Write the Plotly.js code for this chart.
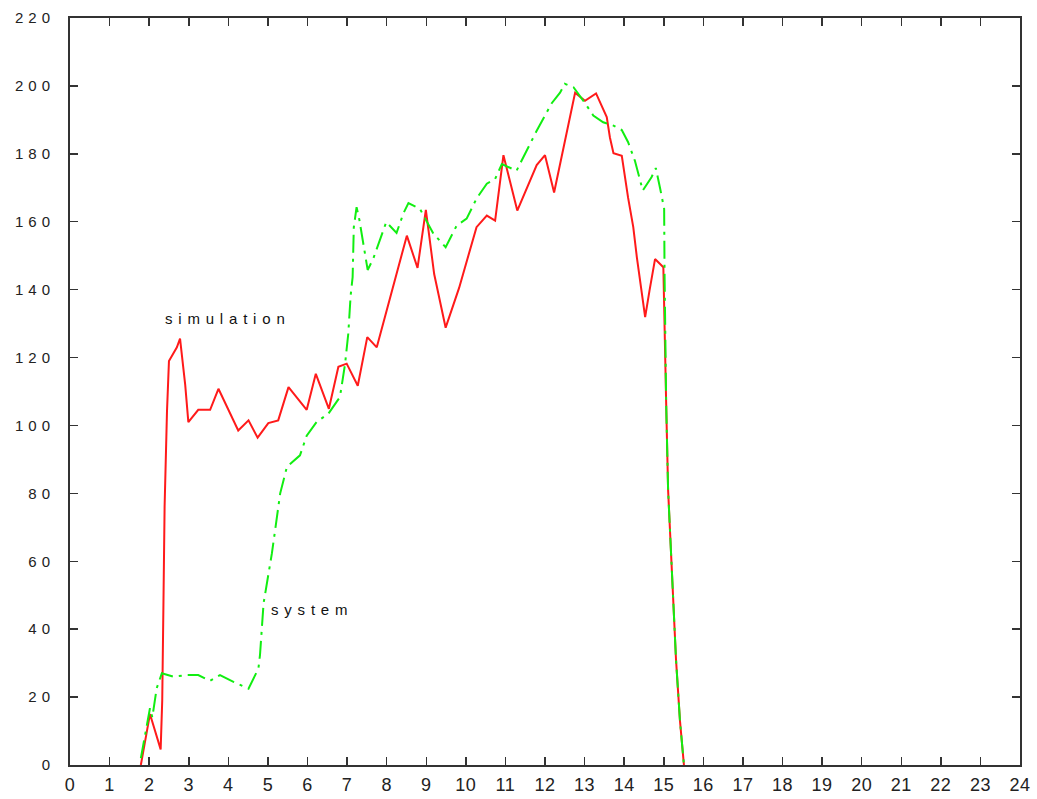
<!DOCTYPE html>
<html>
<head>
<meta charset="utf-8">
<script src="https://cdn.plot.ly/plotly-3.0.1.min.js"></script>
<style>
  html, body { margin: 0; padding: 0; background: #fff; }
  #chart { width: 1037px; height: 799px; }
  .ytick text { letter-spacing: 5px; }
  .xtick text { letter-spacing: 0.5px; }
  .annotation-text { letter-spacing: 5.8px; }
</style>
</head>
<body>
<div id="chart"></div>
<script>
// simulation series (red)
var simX = [1.79, 2.02, 2.29, 2.33, 2.36, 2.39, 2.45, 2.5, 2.7, 2.78, 2.91, 2.99, 3.24, 3.54, 3.75, 4.25, 4.51, 4.74, 5.01, 5.26, 5.52, 5.98, 6.21, 6.54, 6.78, 6.99, 7.27, 7.51, 7.75, 8.51, 8.78, 8.99, 9.2, 9.49, 9.83, 10.27, 10.53, 10.74, 10.95, 11.3, 11.79, 12.0, 12.23, 12.46, 12.76, 13.01, 13.29, 13.56, 13.64, 13.73, 13.94, 14.1, 14.23, 14.32, 14.44, 14.53, 14.64, 14.78, 14.99, 15.01, 15.06, 15.11, 15.21, 15.31, 15.41, 15.51];
var simY = [0, 15, 4.6, 19, 47, 76, 104, 119, 123, 125.6, 112, 101, 104.6, 104.6, 110.8, 98.5, 101.5, 96.4, 100.7, 101.5, 111.3, 104.6, 115.2, 104.9, 117.3, 118.2, 111.7, 126, 123, 155.9, 146.4, 163.5, 144.6, 128.8, 140.5, 158.4, 161.8, 160.3, 179.6, 163.3, 176.7, 179.6, 168.6, 181.6, 198, 195.6, 197.8, 190.8, 184.8, 180.2, 179.4, 167, 158.4, 149.6, 138.8, 131.9, 139.7, 149, 146.6, 133, 107, 81, 54, 31, 13, 0];

// system series (green)
var sysX = [1.79, 2.02, 2.08, 2.19, 2.32, 2.61, 2.95, 3.24, 3.54, 3.79, 4.13, 4.51, 4.76, 4.8, 4.89, 4.97, 5.1, 5.18, 5.31, 5.48, 5.81, 5.98, 6.23, 6.53, 6.82, 6.95, 7.03, 7.09, 7.14, 7.17, 7.24, 7.31, 7.52, 7.66, 7.99, 8.25, 8.42, 8.55, 8.84, 9.18, 9.49, 9.77, 10.02, 10.27, 10.53, 10.74, 10.91, 11.28, 11.58, 11.79, 12.17, 12.38, 12.5, 12.72, 12.97, 13.22, 13.47, 13.73, 13.94, 14.1, 14.27, 14.47, 14.69, 14.8, 14.91, 15.01, 15.02, 15.06, 15.11, 15.21, 15.31, 15.41, 15.51];
var sysY = [2, 16.7, 14, 22.6, 27, 26, 26.5, 26.5, 24.8, 26.5, 24.5, 22.5, 28.4, 32.4, 47.6, 53, 62.3, 69, 80, 87.8, 91.2, 97, 101, 103.5, 108.4, 118.2, 127, 138.3, 143.7, 158.4, 164.3, 160.6, 145.8, 149.1, 159.9, 156.7, 162.4, 165.5, 163.8, 156.5, 152.5, 158.9, 160.9, 166.8, 171.2, 172.6, 177, 175, 182, 186.8, 194.9, 198, 200.6, 199.6, 195.6, 191.3, 189.3, 188.3, 187, 183.4, 178, 169.2, 173.1, 175.8, 169.7, 163.8, 145, 107, 81, 54, 31, 13, 0];

var labelSim = "simulation";
var labelSys = "system";

var traces = [
  {x: simX, y: simY, type: "scatter", mode: "lines", name: labelSim,
   line: {color: "#ff1a1a", width: 2}},
  {x: sysX, y: sysY, type: "scatter", mode: "lines", name: labelSys,
   line: {color: "#11ee11", width: 2, dash: "18px,6px,3px,6px"}}
];

var axisCommon = {
  showline: true, linecolor: "#333", linewidth: 2, mirror: "ticks",
  ticks: "inside", ticklen: 8, tickwidth: 1.5, tickcolor: "#333",
  showgrid: false, zeroline: false, fixedrange: true
};

var layout = {
  width: 1037, height: 799,
  margin: {l: 70, r: 17, t: 18, b: 34},
  paper_bgcolor: "#fff", plot_bgcolor: "#fff",
  showlegend: false,
  xaxis: Object.assign({}, axisCommon, {
    range: [0, 24], dtick: 1, tick0: 0,
    tickfont: {family: "Liberation Sans, Arial, sans-serif", size: 18, color: "#222"},
    ticklabelstandoff: 2
  }),
  yaxis: Object.assign({}, axisCommon, {
    range: [0, 220], dtick: 20, tick0: 0,
    tickfont: {family: "Liberation Sans, Arial, sans-serif", size: 15, color: "#222"},
    ticklabelstandoff: 10
  }),
  annotations: [
    {x: 4.0, y: 131.5, xref: "x", yref: "y", text: labelSim, showarrow: false,
     font: {family: "Liberation Sans, Arial, sans-serif", size: 15, color: "#111"}},
    {x: 6.12, y: 45.9, xref: "x", yref: "y", text: labelSys, showarrow: false,
     font: {family: "Liberation Sans, Arial, sans-serif", size: 15, color: "#111"}}
  ]
};

Plotly.newPlot("chart", traces, layout, {displayModeBar: false, staticPlot: true});
</script>
</body>
</html>
